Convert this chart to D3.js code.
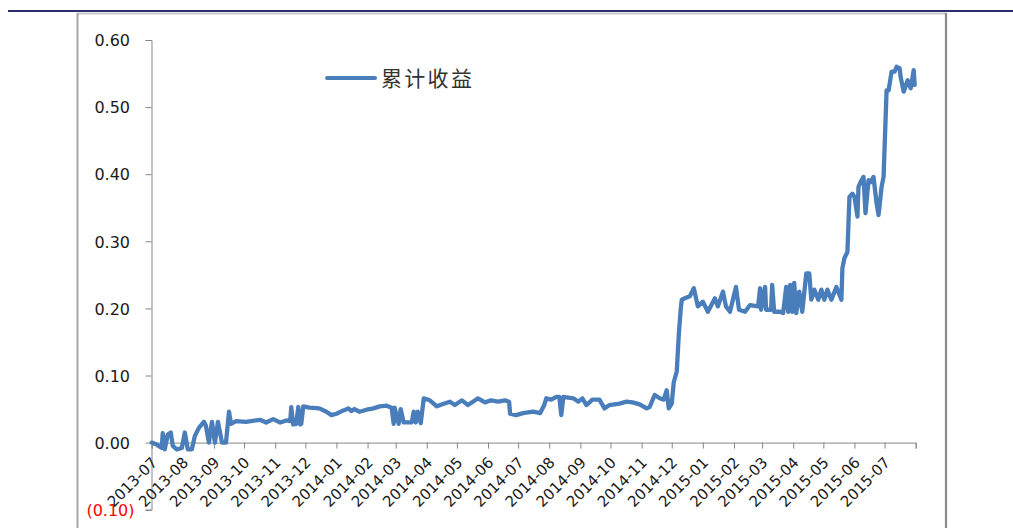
<!DOCTYPE html>
<html>
<head>
<meta charset="utf-8">
<script src="https://cdn.jsdelivr.net/npm/d3@7/dist/d3.min.js"></script>
<style>
  html, body { margin: 0; padding: 0; background: #fff; }
  svg { display: block; }
</style>
</head>
<body>
<svg id="chart" width="1013" height="528"></svg>
<script>
// ---- data ----
const seriesName = "累计收益";
const dates = [
  "2013-07-01","2013-07-06","2013-07-11","2013-07-12","2013-07-14","2013-07-17","2013-07-20","2013-07-22","2013-07-26","2013-07-31",
  "2013-08-03","2013-08-06","2013-08-10","2013-08-13","2013-08-17","2013-08-22","2013-08-24","2013-08-27","2013-08-30",
  "2013-09-02","2013-09-05","2013-09-09","2013-09-13","2013-09-16","2013-09-18","2013-09-23",
  "2013-10-03","2013-10-17","2013-10-23","2013-10-30",
  "2013-11-06","2013-11-12","2013-11-16","2013-11-17","2013-11-19","2013-11-22","2013-11-24","2013-11-26","2013-11-27","2013-11-29",
  "2013-12-05","2013-12-15","2013-12-22","2013-12-27",
  "2014-01-01","2014-01-08","2014-01-13","2014-01-16","2014-01-19","2014-01-24","2014-01-31",
  "2014-02-07","2014-02-13","2014-02-20","2014-02-25","2014-02-27","2014-02-28",
  "2014-03-04","2014-03-06","2014-03-09","2014-03-12","2014-03-17","2014-03-19","2014-03-21","2014-03-23","2014-03-26","2014-03-29",
  "2014-04-04","2014-04-11","2014-04-18","2014-04-24","2014-04-29",
  "2014-05-06","2014-05-12","2014-05-17","2014-05-22","2014-05-29",
  "2014-06-04","2014-06-11","2014-06-18","2014-06-22","2014-06-23","2014-06-29",
  "2014-07-06","2014-07-16","2014-07-23","2014-07-27","2014-07-29",
  "2014-08-03","2014-08-08","2014-08-11","2014-08-13","2014-08-15","2014-08-25","2014-08-30",
  "2014-09-03","2014-09-07","2014-09-13","2014-09-20","2014-09-25","2014-09-30",
  "2014-10-10","2014-10-17","2014-10-23","2014-10-30",
  "2014-11-06","2014-11-09","2014-11-14","2014-11-19","2014-11-23","2014-11-26","2014-11-28",
  "2014-12-01","2014-12-03","2014-12-06","2014-12-08","2014-12-10","2014-12-11","2014-12-14","2014-12-19","2014-12-23","2014-12-27",
  "2015-01-01","2015-01-06","2015-01-13","2015-01-16","2015-01-21","2015-01-24","2015-01-28",
  "2015-02-03","2015-02-06","2015-02-12","2015-02-17","2015-02-25","2015-02-27","2015-02-28",
  "2015-03-04","2015-03-05","2015-03-10","2015-03-11","2015-03-13","2015-03-19","2015-03-22","2015-03-25","2015-03-27","2015-03-29","2015-03-31",
  "2015-04-02","2015-04-04","2015-04-07","2015-04-10","2015-04-14","2015-04-17","2015-04-19","2015-04-22","2015-04-26","2015-04-29",
  "2015-05-02","2015-05-05","2015-05-09","2015-05-14","2015-05-19","2015-05-20","2015-05-22","2015-05-25","2015-05-27","2015-05-30",
  "2015-06-01","2015-06-04","2015-06-05","2015-06-08","2015-06-10","2015-06-12","2015-06-15","2015-06-17","2015-06-20","2015-06-23","2015-06-25","2015-06-28","2015-06-30",
  "2015-07-03","2015-07-05","2015-07-08","2015-07-11","2015-07-13","2015-07-16","2015-07-17","2015-07-20","2015-07-24","2015-07-27","2015-07-30","2015-07-31"
];
const values = [
  0.000,-0.003,-0.008,0.014,-0.010,0.012,0.015,-0.005,-0.010,-0.008,
  0.015,-0.010,-0.010,0.010,0.022,0.031,0.025,0.000,0.031,
  0.000,0.031,0.000,0.000,0.046,0.028,0.032,
  0.031,0.034,0.030,0.035,
  0.030,0.033,0.032,0.053,0.027,0.028,0.053,0.027,0.028,0.054,
  0.052,0.051,0.046,0.041,
  0.043,0.048,0.051,0.047,0.050,0.046,0.049,
  0.051,0.054,0.055,0.052,0.028,0.052,
  0.028,0.050,0.030,0.030,0.030,0.046,0.030,0.046,0.029,0.066,
  0.063,0.054,0.058,0.061,0.056,
  0.063,0.056,0.061,0.066,0.060,
  0.063,0.061,0.063,0.061,0.043,0.041,
  0.044,0.046,0.044,0.056,0.066,
  0.064,0.068,0.068,0.041,0.068,0.066,0.061,
  0.066,0.056,0.064,0.064,0.051,0.056,
  0.058,0.061,0.060,0.057,
  0.051,0.053,0.071,0.066,0.064,0.078,0.051,
  0.058,0.090,0.106,0.160,0.200,0.213,0.215,0.218,0.230,0.203,
  0.210,0.195,0.215,0.203,0.225,0.203,0.195,
  0.232,0.198,0.195,0.205,0.203,0.230,0.198,
  0.232,0.198,0.198,0.235,0.195,0.195,0.193,0.232,0.195,0.235,0.195,
  0.238,0.193,0.225,0.195,0.252,0.252,0.213,0.228,0.213,0.228,
  0.213,0.228,0.213,0.232,0.213,0.260,0.275,0.284,0.366,0.371,
  0.366,0.337,0.381,0.391,0.396,0.342,0.391,0.388,0.396,0.357,0.339,0.381,0.396,
  0.525,0.525,0.553,0.553,0.560,0.558,0.545,0.523,0.540,0.528,0.555,0.533
];
const yTicks = [-0.10, 0.00, 0.10, 0.20, 0.30, 0.40, 0.50, 0.60];
const xTickLabels = ["2013-07","2013-08","2013-09","2013-10","2013-11","2013-12",
  "2014-01","2014-02","2014-03","2014-04","2014-05","2014-06","2014-07","2014-08","2014-09","2014-10","2014-11","2014-12",
  "2015-01","2015-02","2015-03","2015-04","2015-05","2015-06","2015-07"];

// ---- drawing ----
const svg = d3.select("#chart");
const parse = d3.timeParse("%Y-%m-%d");
const parseM = d3.timeParse("%Y-%m");
const data = dates.map((d, i) => ({ date: parse(d), value: values[i] }));

const x = d3.scaleTime()
  .domain([parse("2013-07-01"), parse("2015-08-01")])
  .range([151.7, 915.7]);
const y = d3.scaleLinear().domain([-0.10, 0.60]).range([509.7, 40]);

// navy rule
svg.append("line")
  .attr("x1", 8).attr("x2", 1013).attr("y1", 11).attr("y2", 11)
  .attr("stroke", "#2e2e6e").attr("stroke-width", 2.2);

// chart frame
svg.append("line").attr("x1", 77).attr("x2", 946).attr("y1", 13.5).attr("y2", 13.5)
  .attr("stroke", "#c8c8c8").attr("stroke-width", 2);
svg.append("line").attr("x1", 77.5).attr("x2", 77.5).attr("y1", 13).attr("y2", 528)
  .attr("stroke", "#a6a6a6").attr("stroke-width", 2);
svg.append("line").attr("x1", 946).attr("x2", 946).attr("y1", 13).attr("y2", 528)
  .attr("stroke", "#8c8c8c").attr("stroke-width", 2.2);

// y axis
const yAxis = d3.axisLeft(y).tickValues(yTicks).tickSize(6).tickPadding(0)
  .tickFormat(v => v < 0 ? "(" + d3.format(".2f")(-v) + ")" : d3.format(".2f")(v));
const gy = svg.append("g").attr("transform", "translate(151.5,0)").call(yAxis);
gy.select(".domain").attr("stroke", "#868686");
gy.selectAll(".tick line").attr("stroke", "#868686");
gy.selectAll(".tick text")
  .attr("font-family", "DejaVu Sans").attr("font-size", 16)
  .attr("fill", d => d < 0 ? "#ff0000" : "#1a1a1a")
  .attr("x", d => d < 0 ? -17 : -21.5)
  .attr("dy", "0.36em");

// x axis at y = 0
const monthTicks = xTickLabels.map(s => parseM(s)).concat([parse("2015-08-01")]);
const xAxis = d3.axisBottom(x).tickValues(monthTicks).tickSize(6)
  .tickFormat(d => {
    const s = d3.timeFormat("%Y-%m")(d);
    return xTickLabels.includes(s) ? s : "";
  });
const gx = svg.append("g").attr("transform", `translate(0,${y(0)})`).call(xAxis);
gx.select(".domain").attr("stroke", "#868686");
gx.selectAll(".tick line").attr("stroke", "#868686");
gx.selectAll(".tick text")
  .attr("font-family", "DejaVu Sans").attr("font-size", 15)
  .attr("fill", "#1a1a1a")
  .attr("text-anchor", "end")
  .attr("y", 0).attr("dy", 0)
  .attr("transform", "translate(6,21) rotate(-45)");

// line
const line = d3.line().x(d => x(d.date)).y(d => y(d.value));
svg.append("path").datum(data)
  .attr("d", line)
  .attr("fill", "none")
  .attr("stroke", "#4a7ebb")
  .attr("stroke-width", 4.3)
  .attr("stroke-linejoin", "round")
  .attr("stroke-linecap", "round");

// legend
svg.append("line").attr("x1", 327).attr("x2", 375).attr("y1", 78).attr("y2", 78)
  .attr("stroke", "#4a7ebb").attr("stroke-width", 4).attr("stroke-linecap", "round");
svg.append("text").attr("x", 381).attr("y", 78).attr("dy", "0.36em")
  .attr("font-family", "Noto Sans CJK SC").attr("font-size", 21)
  .attr("letter-spacing", 2.3)
  .attr("fill", "#333")
  .text(seriesName);
</script>
</body>
</html>
